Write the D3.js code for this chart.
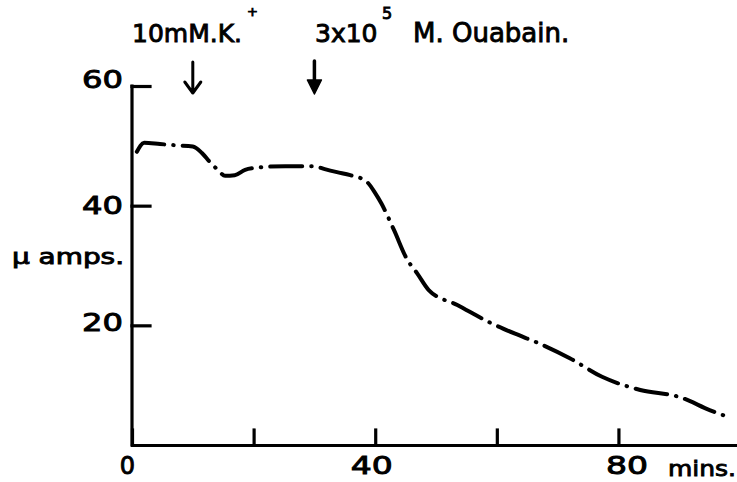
<!DOCTYPE html>
<html>
<head>
<meta charset="utf-8">
<script src="https://cdn.jsdelivr.net/npm/d3@7/dist/d3.min.js"></script>
<style>
  html, body { margin: 0; padding: 0; background: #fff; }
  svg { display: block; }
  text { font-family: "DejaVu Sans", sans-serif; font-weight: normal; fill: #000; stroke: #000; stroke-width: 0.9; }
</style>
</head>
<body>
<svg id="chart" width="737" height="482"></svg>
<script>
// ---- data ----
const minutes   = [0.8, 2.0, 4.6, 7.1, 10.0, 11.5, 12.8, 14.1, 15.3, 16.9, 18.6, 20.1, 25.2, 29.9,
                   31.7, 33.7, 35.9, 38.5, 40.0, 41.0, 43.1, 45.2, 46.9, 48.8, 53.5, 59.0, 63.0,
                   66.9, 72.0, 77.3, 83.6, 90.1, 95.1, 98.0];
const microamps = [49.0, 50.5, 50.3, 50.1, 49.9, 48.8, 47.3, 46.0, 45.0, 45.1, 46.0, 46.3, 46.6, 46.6,
                   46.1, 45.6, 45.1, 44.1, 42.1, 40.4, 35.9, 31.1, 28.7, 25.9, 23.4, 20.4, 18.6,
                   17.0, 14.5, 11.4, 9.2, 8.0, 5.8, 4.7];
const xTicks = [0, 20, 40, 60, 80];
const xTickLabels = ["0", "", "40", "", "80"];
const yTicks = [20, 40, 60];
const yTickLabels = ["20", "40", "60"];
const eventTimes = [10, 30];          // K+ addition, ouabain addition
const xMax = 99.5, yMax = 60;

// ---- layout ----
const svg = d3.select("#chart");
const x = d3.scaleLinear().domain([0, xMax]).range([132, 737]);
const y = d3.scaleLinear().domain([0, yMax]).range([445, 86]);

// axes
const xAxis = d3.axisBottom(x)
  .tickValues(xTicks)
  .tickFormat((d, i) => xTickLabels[i])
  .tickSizeInner(-15).tickSizeOuter(0).tickPadding(12);
const gx = svg.append("g").attr("transform", `translate(0,${y(0)})`).call(xAxis);

const yAxis = d3.axisLeft(y)
  .tickValues(yTicks)
  .tickFormat((d, i) => yTickLabels[i])
  .tickSizeInner(-18).tickSizeOuter(0).tickPadding(9);
const gy = svg.append("g").attr("transform", `translate(${x(0)},0)`).call(yAxis);

// y axis domain line should run from 0 to 60
gy.select(".domain").attr("d", `M0,${y(0)}V${y(yMax)}`);

[gx, gy].forEach(g => {
  g.selectAll(".domain, .tick line").attr("stroke", "#000").attr("stroke-width", 3.2)
    .attr("stroke-linecap", "square");
  g.selectAll(".tick text").attr("font-size", 24).attr("font-family", "DejaVu Sans")
    .attr("fill", "#000").attr("stroke", "#000").attr("stroke-width", 0.8);
});
gx.selectAll(".tick text").filter(d => d !== 0)
  .attr("textLength", 42).attr("lengthAdjust", "spacingAndGlyphs");
gx.selectAll(".tick text").attr("dx", d => d === 0 ? -5 : d === 80 ? 8 : -4);
gy.selectAll(".tick text")
  .attr("textLength", 41).attr("lengthAdjust", "spacingAndGlyphs")
  .attr("dy", d => d === 60 ? "0.05em" : d === 20 ? "0.2em" : "0.32em");

// "mins." unit label
svg.append("text").attr("x", 668).attr("y", 476)
  .attr("font-size", 22).attr("textLength", 68).attr("lengthAdjust", "spacingAndGlyphs")
  .text("mins.");

// y axis title
svg.append("text").attr("x", 12).attr("y", 264)
  .attr("font-size", 21).attr("textLength", 112).attr("lengthAdjust", "spacingAndGlyphs")
  .text("μ amps.");

// data line (dash-dot)
const line = d3.line()
  .x((d, i) => x(minutes[i]))
  .y((d, i) => y(microamps[i]))
  .curve(d3.curveMonotoneX);
svg.append("path")
  .attr("d", line(minutes))
  .attr("fill", "none")
  .attr("stroke", "#000")
  .attr("stroke-width", 4)
  .attr("stroke-linecap", "round")
  .attr("stroke-dasharray", "32,9,0.5,9");

// event arrows
const ax1 = x(eventTimes[0]);
svg.append("path")
  .attr("d", `M${ax1},62V93M${ax1 - 8},82L${ax1},93L${ax1 + 8},82`)
  .attr("fill", "none").attr("stroke", "#000").attr("stroke-width", 3)
  .attr("stroke-linejoin", "round").attr("stroke-linecap", "round");

const ax2 = x(eventTimes[1]);
svg.append("path")
  .attr("d", `M${ax2},61V84`)
  .attr("fill", "none").attr("stroke", "#000").attr("stroke-width", 3.5)
  .attr("stroke-linecap", "round");
svg.append("path")
  .attr("d", `M${ax2 - 7},80L${ax2},94L${ax2 + 7},80Z`)
  .attr("fill", "#000").attr("stroke", "#000").attr("stroke-width", 1.5)
  .attr("stroke-linejoin", "round");

// annotations
svg.append("text").attr("x", 132).attr("y", 42)
  .attr("font-size", 25).attr("stroke-width", 1)
  .text("10mM.K.");
svg.append("text").attr("x", 247).attr("y", 16)
  .attr("font-size", 13).attr("stroke-width", 1.2).text("+");

svg.append("text").attr("x", 315).attr("y", 42)
  .attr("font-size", 25).attr("stroke-width", 1)
  .text("3x10");
svg.append("text").attr("x", 382).attr("y", 19)
  .attr("font-size", 16).attr("stroke-width", 1.3).text("5");
svg.append("text").attr("x", 413).attr("y", 42)
  .attr("font-size", 26).attr("stroke-width", 1)
  .text("M. Ouabain.");
</script>
</body>
</html>
